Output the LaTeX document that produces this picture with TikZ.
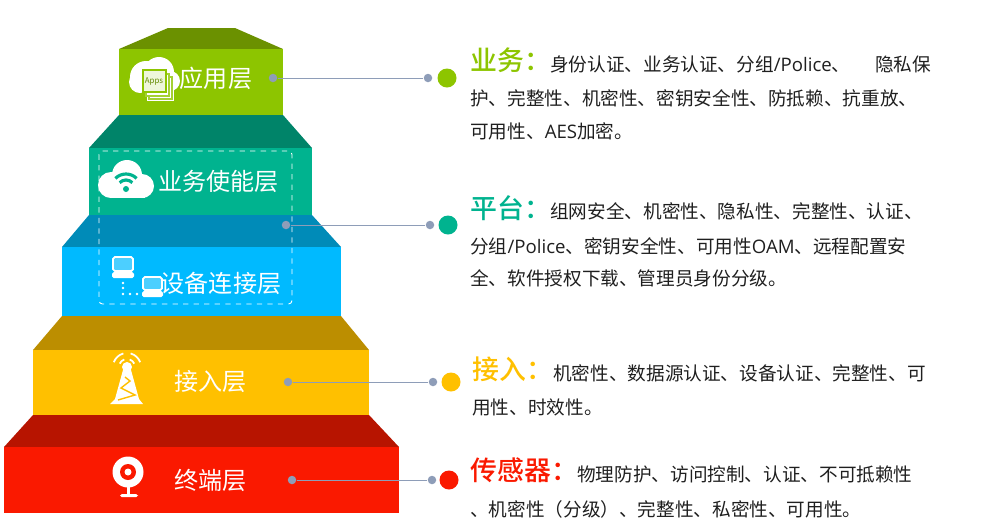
\documentclass[tikz,border=0pt]{standalone}
\usepackage{fontspec}
\usepackage{tikz}
\setmainfont{Noto Sans CJK SC}
\newfontfamily\latfont{Open Sans}
\newfontfamily\headfont{Noto Sans CJK SC Medium}
\newcommand{\lat}[1]{{\latfont #1}}
\pgfdeclarelayer{bg}
\pgfsetlayers{bg,main}
\definecolor{appgreen}{HTML}{8DC500}
\definecolor{appdark}{HTML}{6B9100}
\definecolor{bizteal}{HTML}{00B38F}
\definecolor{bizdark}{HTML}{008469}
\definecolor{devblue}{HTML}{00BAFF}
\definecolor{devdark}{HTML}{008BB8}
\definecolor{accamber}{HTML}{FFC000}
\definecolor{accdark}{HTML}{BC8E00}
\definecolor{termred}{HTML}{FA1900}
\definecolor{termdark}{HTML}{B71400}
\definecolor{linkgrey}{HTML}{8E9DB8}
\tikzset{
    lbl/.style={text=white, font=\fontsize{13.7}{16}\selectfont, inner sep=0pt},
    body/.style={anchor=base west, text=black!88, font=\fontsize{10.6}{13}\selectfont, inner sep=0pt},
    head/.style={anchor=base west, font=\fontsize{15.3}{18}\selectfont\headfont, inner sep=0pt},
    tip/.style={circle, fill=linkgrey, minimum size=0.17cm, inner sep=0pt},
    ball/.style={circle, minimum size=0.38cm, inner sep=0pt},
    link/.style={linkgrey, line width=0.5pt},
}
\begin{document}
\begin{tikzpicture}[x=0.02cm, y=-0.02cm]
    \useasboundingbox (0,0) rectangle (993,529);

    \begin{pgfonlayer}{bg}
        % steps
        \fill[appdark] (119,49) -- (168,28) -- (235,28) -- (283,49) -- cycle;
        \fill[appgreen] (119,49) rectangle (283,115);
        \fill[bizdark] (89,148) -- (119,115) -- (283,115) -- (312,148) -- cycle;
        \fill[bizteal] (89,148) rectangle (312,215);
        \fill[devdark] (62,247) -- (89,215) -- (312,215) -- (341,247) -- cycle;
        \fill[devblue] (62,247) rectangle (341,316);
        \fill[accdark] (33,350) -- (62,316) -- (341,316) -- (369,350) -- cycle;
        \fill[accamber] (33,350) rectangle (369,415);
        \fill[termdark] (4,447) -- (33,415) -- (369,415) -- (399,447) -- cycle;
        \fill[termred] (4,447) rectangle (399,513);
        \draw[white, dashed, line width=0.5pt, rounded corners=2pt] (99,151) rectangle (292,304);

        % apps cloud
        \fill[white] (146,77) circle (16) (159,72) circle (15) (170,81) circle (10) (140,82) circle (11);
        \fill[white] (140,80) rectangle (172,92);
        \fill[white] (147,80) rectangle (174,101);
        \draw[appgreen!80, line width=0.7pt, fill=white] (149,77) rectangle (172,99);
        \draw[appgreen!80, line width=0.7pt, fill=white] (146,74) rectangle (169,96);
        \draw[appgreen, line width=1pt, fill=appgreen!15] (143,70) rectangle (166,92);
        \node (apps) [text=appgreen!70!black, font=\fontsize{4.5}{5}\selectfont, inner sep=0pt] at (154,81) {Apps};

        % wifi cloud
        \fill[white] (111,185) circle (13) (127,175) circle (15) (142,186) circle (12);
        \fill[white] (110,185) rectangle (145,198);
        \fill[bizteal] (126,189) circle (3);
        \draw[bizteal, line width=1.8pt] (126,189) ++(225:9) arc (225:315:9);
        \draw[bizteal, line width=1.8pt] (126,189) ++(225:15) arc (225:315:15);

        % computers
        \draw[white, line width=1pt, fill=devblue!70!white, rounded corners=1pt] (113,257) rectangle (133,271);
        \fill[white, rounded corners=1pt] (112,272) rectangle (134,278);
        \draw[white, line width=1pt, fill=devblue!70!white, rounded corners=1pt] (143,277) rectangle (162,290);
        \fill[white, rounded corners=1pt] (142,291) rectangle (163,297);
        \foreach \px/\py in {123/283, 123/288, 123/294, 130/294, 137/294}
            \fill[white] (\px,\py) circle (1.4);

        % tower
        \fill[white] (127,367) circle (5);
        \fill[white] (123,370) -- (131,370) -- (139,399) -- (143,404) -- (110,404) -- (115,399) -- cycle;
        \draw[accamber, line width=0.8pt] (125,377) -- (130,381) -- (121,388) -- (135,395) -- (118,400);
        \draw[white, line width=1pt] (127,367) ++(205:8) arc (205:250:8);
        \draw[white, line width=1pt] (127,367) ++(290:8) arc (290:335:8);
        \draw[white, line width=1pt] (127,367) ++(200:14) arc (200:255:14);
        \draw[white, line width=1pt] (127,367) ++(285:14) arc (285:340:14);

        % camera
        \fill[white] (128,472) circle (15.5);
        \fill[termred] (128,472) circle (8);
        \fill[white] (128,472) circle (3.5);
        \fill[white] (127,486) rectangle (130,494);
        \fill[white, rounded corners=1pt] (120,494) rectangle (138,497);
    \end{pgfonlayer}

    \node (app) [lbl] at (216,78) {应用层};
    \node (biz) [lbl] at (218.5,181) {业务使能层};
    \node (dev) [lbl] at (221,283) {设备连接层};
    \node (acc) [lbl] at (210.5,381) {接入层};
    \node (term) [lbl] at (210.5,480) {终端层};

    \node (t1) [tip] at (273,78) {};
    \node (e1) [tip] at (428,78) {};
    \node (b1) [ball, fill=appgreen] at (447,78) {};
    \node (t2) [tip] at (286,225) {};
    \node (e2) [tip] at (430,225) {};
    \node (b2) [ball, fill=bizteal] at (448,225) {};
    \node (t3) [tip] at (288,382) {};
    \node (e3) [tip] at (433,382) {};
    \node (b3) [ball, fill=accamber] at (451,382) {};
    \node (t4) [tip] at (292,480) {};
    \node (e4) [tip] at (432,480) {};
    \node (b4) [ball, fill=termred] at (449,480) {};

    \draw[link] (t1) -- (e1);
    \draw[link] (t2) -- (e2);
    \draw[link] (t3) -- (e3);
    \draw[link] (t4) -- (e4);

    \node (h1) [head, text=appgreen] at (470,70) {业务：};
    \node (s1) [body] at (550,71) {身份认证、业务认证、分组\lat{/Police}、\hspace{14pt}隐私保};
    \node (s1b) [body] at (470,105) {护、完整性、机密性、密钥安全性、防抵赖、抗重放、};
    \node (s1c) [body] at (470,138) {可用性、\lat{AES}加密。};

    \node (h2) [head, text=bizteal] at (470,218) {平台：};
    \node (s2) [body] at (550,218) {组网安全、机密性、隐私性、完整性、认证、};
    \node (s2b) [body] at (470,253) {分组\lat{/Police}、密钥安全性、可用性\lat{OAM}、远程配置安};
    \node (s2c) [body] at (470,285) {全、软件授权下载、管理员身份分级。};

    \node (h3) [head, text=accamber] at (472,379) {接入：};
    \node (s3) [body] at (553,380) {机密性、数据源认证、设备认证、完整性、可};
    \node (s3b) [body] at (472,414) {用性、时效性。};

    \node (h4) [head, text=termred] at (470,480) {传感器：};
    \node (s4) [body] at (577,481) {物理防护、访问控制、认证、不可抵赖性};
    \node (s4b) [body] at (470,516) {、机密性（分级）、完整性、私密性、可用性。};
\end{tikzpicture}
\end{document}
